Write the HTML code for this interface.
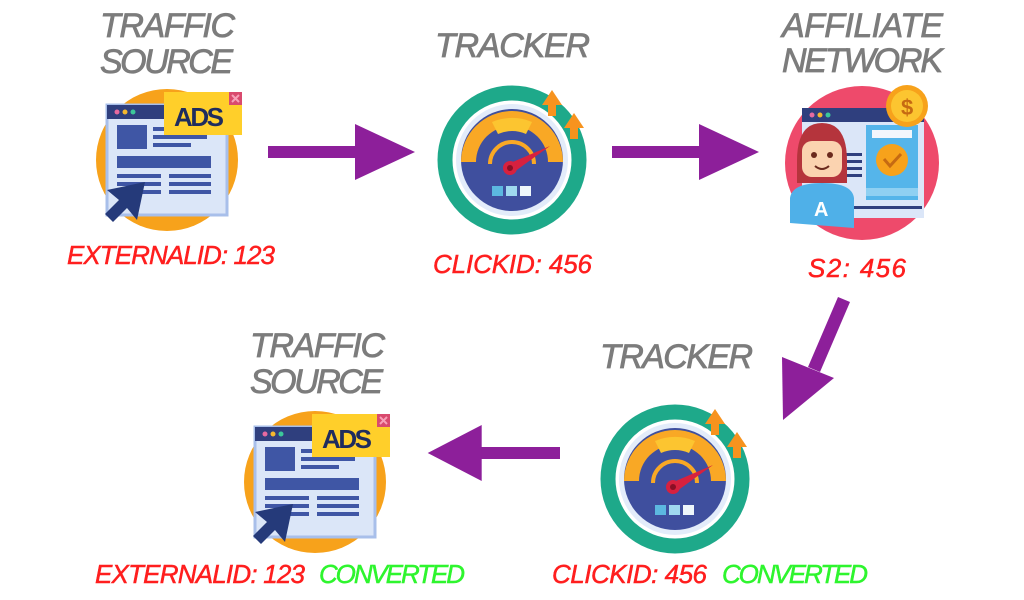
<!DOCTYPE html>
<html><head><meta charset="utf-8"><style>
html,body{margin:0;padding:0;background:#fff;}
svg{display:block;}
.t{font-family:"Liberation Sans",sans-serif;font-style:italic;font-size:34px;fill:#7c7c7c;stroke:#7c7c7c;stroke-width:0.8;}
.r{font-family:"Liberation Sans",sans-serif;font-style:italic;font-size:26px;fill:#ff1e1e;stroke:#ff1e1e;stroke-width:0.5;}
.g{fill:#2ef52e;stroke:#2ef52e;}
</style></head><body>
<svg width="1024" height="600" viewBox="0 0 1024 600" xmlns="http://www.w3.org/2000/svg">
<defs>
<g id="ts">
  <circle cx="0" cy="0" r="71" fill="#f7a21b"/>
  <rect x="-60" y="-55" width="120" height="110" fill="#dbe6f8" stroke="#a8bfea" stroke-width="3"/>
  <rect x="-60" y="-55" width="120" height="14" fill="#2f3f7e"/>
  <circle cx="-50" cy="-48" r="2.5" fill="#e66aa0"/><circle cx="-42" cy="-48" r="2.5" fill="#f5b82e"/><circle cx="-34" cy="-48" r="2.5" fill="#3cc89a"/>
  <rect x="-50" y="-35" width="30" height="24" fill="#3f56a5"/>
  <rect x="-14" y="-33" width="54" height="4" fill="#3f56a5"/>
  <rect x="-14" y="-25" width="54" height="4" fill="#3f56a5"/>
  <rect x="-14" y="-17" width="38" height="4" fill="#3f56a5"/>
  <rect x="-50" y="-4" width="94" height="12" fill="#3f56a5"/>
  <rect x="-50" y="14" width="44" height="4" fill="#3f56a5"/><rect x="2" y="14" width="42" height="4" fill="#3f56a5"/>
  <rect x="-50" y="22" width="44" height="4" fill="#3f56a5"/><rect x="2" y="22" width="42" height="4" fill="#3f56a5"/>
  <rect x="-50" y="30" width="44" height="4" fill="#3f56a5"/><rect x="2" y="30" width="42" height="4" fill="#3f56a5"/>
  <rect x="-3" y="-68" width="78" height="43" fill="#ffcf2a"/>
  <text x="7" y="-34" font-family="Liberation Sans,sans-serif" font-weight="bold" font-size="26" fill="#1f2c5e" textLength="50">ADS</text>
  <rect x="62" y="-68" width="13" height="13" fill="#d94a6e"/>
  <path d="M65 -65 L72 -58 M72 -65 L65 -58" stroke="#f7a0b8" stroke-width="2"/>
  <path d="M-22 22 L-60 30 L-48 40 L-62 54 L-54 62 L-40 48 L-30 60 Z" fill="#253a7a"/>
</g>
<g id="tr">
  <circle cx="0" cy="0" r="67" fill="none" stroke="#1ea98a" stroke-width="15"/>
  <circle cx="0" cy="0" r="59" fill="#fff"/>
  <circle cx="0" cy="0" r="56" fill="#e3ecfa"/>
  <circle cx="0" cy="0" r="51" fill="#3f4f9e"/>
  <path d="M-51 2 A51 51 0 0 1 51 2 L36 2 A36 36 0 0 0 -36 2 Z" fill="#f9a825"/>
  <path d="M-20 -38 A51 51 0 0 1 20 -38 L14 -26 A36 36 0 0 0 -14 -26 Z" fill="#fcc530"/>
  <path d="M-22 4 A22 22 0 0 1 22 4" fill="none" stroke="#f9a825" stroke-width="4"/>
  <path d="M-4 4 L38 -14 L2 12 Z" fill="#d6213f"/>
  <circle cx="-2" cy="8" r="7" fill="#d6213f"/><circle cx="-2" cy="8" r="3" fill="#8a0f25"/>
  <rect x="-20" y="26" width="11" height="10" fill="#5cb8e0"/><rect x="-6" y="26" width="11" height="10" fill="#9fd9ef"/><rect x="8" y="26" width="11" height="10" fill="#eef6fb"/>
  <path d="M30 -55 L40 -70 L50 -55 L44 -55 L44 -44 L36 -44 L36 -55 Z" fill="#f7931e"/>
  <path d="M52 -32 L62 -47 L72 -32 L66 -32 L66 -21 L58 -21 L58 -32 Z" fill="#f7931e"/>
</g>
<g id="arr">
  <rect x="0" y="-6" width="95" height="12" fill="#8d1f9a"/>
  <path d="M87 -28 L147 0 L87 28 Z" fill="#8d1f9a"/>
</g>
</defs>

<text class="t" x="100" y="37" textLength="135">TRAFFIC</text>
<text class="t" x="100" y="73" textLength="133">SOURCE</text>
<text class="t" x="435" y="57" textLength="155">TRACKER</text>
<text class="t" x="782" y="37" textLength="161">AFFILIATE</text>
<text class="t" x="782" y="72" textLength="161">NETWORK</text>
<text class="t" x="600" y="368" textLength="153">TRACKER</text>
<text class="t" x="250" y="357" textLength="135">TRAFFIC</text>
<text class="t" x="250" y="393" textLength="133">SOURCE</text>

<use href="#ts" x="167" y="160"/>
<use href="#tr" x="512" y="160"/>
<use href="#tr" x="675" y="479"/>
<use href="#ts" x="315" y="482"/>

<g transform="translate(862,163)">
  <circle cx="0" cy="0" r="77" fill="#ee4a6b"/>
  <rect x="-60" y="-55" width="122" height="110" fill="#dbe6f8"/>
  <rect x="-60" y="-55" width="122" height="14" fill="#2f3f7e"/>
  <circle cx="-50" cy="-48" r="2.5" fill="#e66aa0"/><circle cx="-42" cy="-48" r="2.5" fill="#f5b82e"/><circle cx="-34" cy="-48" r="2.5" fill="#3cc89a"/>
  <rect x="4" y="-38" width="52" height="75" fill="#55b5ea"/>
  <rect x="10" y="-33" width="40" height="8" fill="#f2f6fc"/>
  <circle cx="30" cy="-3" r="16" fill="#f7a21b"/>
  <path d="M22 -4 L28 3 L39 -9" fill="none" stroke="#c66a12" stroke-width="3"/>
  <rect x="4" y="25" width="52" height="8" fill="#8fd0f2"/>
  <rect x="-25" y="-10" width="25" height="3" fill="#2f3f7e"/><rect x="-25" y="-3" width="25" height="3" fill="#2f3f7e"/><rect x="-25" y="4" width="25" height="3" fill="#2f3f7e"/><rect x="-25" y="11" width="25" height="3" fill="#2f3f7e"/>
  <rect x="-30" y="43" width="90" height="3" fill="#2f3f7e"/>
  <circle cx="45" cy="-57" r="21" fill="#f7a21b"/><circle cx="45" cy="-57" r="16" fill="#fcc530"/>
  <text x="39" y="-48" font-family="Liberation Sans,sans-serif" font-weight="bold" font-size="22" fill="#c66a12">$</text>
  <path d="M-65 -2 Q-65 -40 -40 -40 Q-15 -40 -15 -2 L-15 20 L-65 20 Z" fill="#b5343c"/>
  <rect x="-60" y="-22" width="40" height="36" rx="10" fill="#fbd3b0"/>
  <circle cx="-48" cy="-8" r="3" fill="#6b2a1e"/><circle cx="-32" cy="-8" r="3" fill="#6b2a1e"/>
  <path d="M-47 3 Q-40 9 -33 3" fill="none" stroke="#6b2a1e" stroke-width="2"/>
  <path d="M-72 60 L-72 35 Q-70 20 -40 20 Q-10 20 -8 35 L-8 65 Z" fill="#4fb0e8"/>
  <text x="-48" y="53" font-family="Liberation Sans,sans-serif" font-weight="bold" font-size="20" fill="#fff">A</text>
</g>

<use href="#arr" x="268" y="152"/>
<use href="#arr" x="612" y="152"/>
<g transform="translate(560,453) scale(-0.9,1)"><use href="#arr"/></g>
<path d="M838 297 L850 302 L820 372 L808 367 Z" fill="#8d1f9a"/>
<path d="M782 357 L834 378 L783 420 Z" fill="#8d1f9a"/>

<text class="r" x="67" y="264" textLength="208">EXTERNALID: 123</text>
<text class="r" x="433" y="273" textLength="159">CLICKID: 456</text>
<text class="r" x="808" y="277" textLength="98">S2: 456</text>
<text class="r" x="95" y="583" textLength="210">EXTERNALID: 123</text>
<text class="r g" x="319" y="583" textLength="146">CONVERTED</text>
<text class="r" x="552" y="583" textLength="155">CLICKID: 456</text>
<text class="r g" x="722" y="583" textLength="146">CONVERTED</text>
</svg>
</body></html>
